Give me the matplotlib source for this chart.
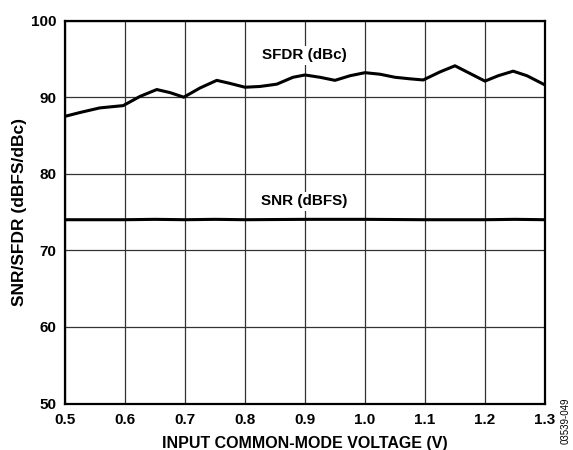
import matplotlib
matplotlib.use("Agg")
import matplotlib.pyplot as plt

plt.rcParams['font.family'] = ['Liberation Sans', 'DejaVu Sans']
plt.rcParams['font.weight'] = 'bold'

# input common-mode voltage (V) vs SFDR (dBc)
sfdr_v = [0.500, 0.525, 0.558, 0.597, 0.625, 0.653, 0.675, 0.698, 0.725, 0.753, 0.775,
          0.800, 0.825, 0.853, 0.880, 0.900, 0.925, 0.950, 0.975, 1.000, 1.025, 1.050,
          1.075, 1.097, 1.125, 1.150, 1.175, 1.200, 1.222, 1.247, 1.270, 1.300]
sfdr_db = [87.5, 88.0, 88.6, 88.9, 90.1, 91.0, 90.6, 90.0, 91.2, 92.2, 91.8,
           91.3, 91.4, 91.7, 92.6, 92.9, 92.6, 92.2, 92.8, 93.2, 93.0, 92.6,
           92.4, 92.25, 93.3, 94.1, 93.1, 92.1, 92.8, 93.4, 92.8, 91.6]

# SNR (dBFS)
snr_v = [0.50, 0.60, 0.65, 0.70, 0.75, 0.80, 0.90, 1.00, 1.10, 1.20, 1.25, 1.30]
snr_db = [74.0, 74.0, 74.05, 74.0, 74.05, 74.0, 74.05, 74.05, 74.0, 74.0, 74.05, 74.0]

x_ticks = [0.5, 0.6, 0.7, 0.8, 0.9, 1.0, 1.1, 1.2, 1.3]
y_ticks = [50, 60, 70, 80, 90, 100]

fig = plt.figure(figsize=(5.73, 4.5), dpi=100)
ax = fig.add_axes([0.1134, 0.1033, 0.8377, 0.8509])

ax.plot(sfdr_v, sfdr_db, color='black', lw=2.2, solid_joinstyle='round', solid_capstyle='butt')
ax.plot(snr_v, snr_db, color='black', lw=2.2, solid_joinstyle='round', solid_capstyle='butt')

ax.set_xlim(0.5, 1.3)
ax.set_ylim(50, 100)
ax.set_xticks(x_ticks)
ax.set_xticklabels([f'{v:.1f}' for v in x_ticks])
ax.set_yticks(y_ticks)
ax.grid(True, color='#333333', lw=0.9)
ax.tick_params(length=0, labelsize=11)
ax.tick_params(axis='x', pad=7)
ax.tick_params(axis='y', pad=6)
for s in ax.spines.values():
    s.set_linewidth(1.6)

ax.set_xlabel('INPUT COMMON-MODE VOLTAGE (V)', fontsize=11.5, fontweight='bold', labelpad=6)
ax.set_ylabel('SNR/SFDR (dBFS/dBc)', fontsize=12.5, fontweight='bold', labelpad=3)

ax.text(0.899, 95.45, 'SFDR (dBc)', ha='center', va='center', fontsize=11, fontweight='bold',
        bbox=dict(facecolor='white', edgecolor='none', pad=2))
ax.text(0.899, 76.4, 'SNR (dBFS)', ha='center', va='center', fontsize=11, fontweight='bold',
        bbox=dict(facecolor='white', edgecolor='none', pad=2))

fig.text(0.988, 0.1156, '03539-049', rotation=90, ha='center', va='top',
         fontsize=7, fontweight='normal')

fig.savefig('out.png', dpi=100)
